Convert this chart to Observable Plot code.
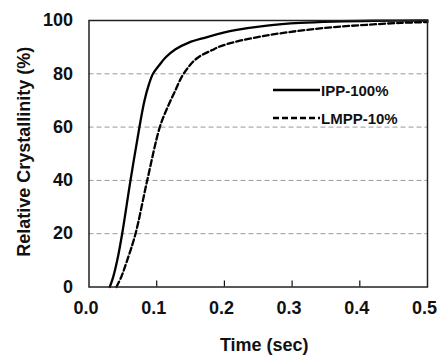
<!DOCTYPE html>
<html>
<head>
<meta charset="utf-8">
<script src="https://cdn.jsdelivr.net/npm/d3@7"></script>
<script src="https://cdn.jsdelivr.net/npm/@observablehq/plot@0.6"></script>
<style>
  body { margin: 0; background: #fff; }
  #wrap { position: relative; width: 438px; height: 356px; font-family: "Liberation Sans", Arial, sans-serif; }
  #legend { position: absolute; left: 0; top: 0; }
</style>
</head>
<body>
<div id="wrap"></div>
<script>
// Data
const ippTime = [0.0307, 0.036, 0.0417, 0.049, 0.0613, 0.0745, 0.082, 0.0885, 0.0945, 0.1031, 0.113, 0.1278, 0.1474, 0.172, 0.2016, 0.216, 0.263, 0.312, 0.361, 0.42, 0.5];
const ippValue = [0, 4, 10, 20, 40, 60, 70, 76, 80, 83, 86.1, 89.2, 91.7, 93.6, 95.6, 96.4, 98.1, 99.1, 99.6, 99.9, 100];
const lmppTime = [0.0406, 0.048, 0.0564, 0.0687, 0.086, 0.1046, 0.1153, 0.1265, 0.1387, 0.1548, 0.1672, 0.182, 0.1917, 0.216, 0.263, 0.312, 0.361, 0.411, 0.46, 0.5];
const lmppValue = [0, 4, 10, 20, 40, 60, 67, 73.2, 79.6, 84.8, 87.1, 88.9, 90.1, 92.0, 94.4, 96.2, 97.5, 98.4, 99.1, 99.4];
const seriesNames = ["IPP-100%", "LMPP-10%"];
const xTicks = [0, 0.1, 0.2, 0.3, 0.4, 0.5];
const yTicks = [0, 20, 40, 60, 80, 100];
const gridValues = [20, 40, 60, 80];
const xLabel = "Time (sec)";
const yLabel = "Relative Crystallinity (%)";

const ipp = ippTime.map((t, i) => ({t, v: ippValue[i]}));
const lmpp = lmppTime.map((t, i) => ({t, v: lmppValue[i]}));

const W = 438, H = 356;
const mL = 88.5, mR = 11, mT = 20, mB = 69.5;
const FONT = '"Liberation Sans", Arial, sans-serif';

const chart = Plot.plot({
  width: W,
  height: H,
  marginLeft: mL,
  marginRight: mR,
  marginTop: mT,
  marginBottom: mB,
  style: {fontFamily: FONT, fontSize: "18px", fontWeight: "bold", color: "#111", background: "#fff"},
  x: {domain: [0, 0.5]},
  y: {domain: [0, 100]},
  marks: [
    Plot.ruleY(gridValues, {stroke: "#9a9a9a", strokeWidth: 1, strokeDasharray: "5,3"}),
    Plot.axisX(xTicks.slice(1, -1), {tickSize: -6, text: null, label: null, stroke: "#111", strokeWidth: 1.2}),
    Plot.axisX(xTicks, {tickSize: 0, tickPadding: 14, dx: -3, tickFormat: d3.format(".1f"), label: null, fontWeight: "bold"}),
    Plot.axisY(yTicks, {tickSize: 0, tickPadding: 16, tickFormat: d3.format("d"), label: null, fontWeight: "bold"}),
    Plot.text([xLabel], {text: d => d, frameAnchor: "bottom", textAnchor: "middle", lineAnchor: "middle", dx: 6, dy: 58, fontSize: 18, fontWeight: "bold", fill: "#111"}),
    Plot.text([yLabel], {text: d => d, frameAnchor: "left", textAnchor: "middle", lineAnchor: "middle", dx: -65, dy: -2, rotate: -90, fontSize: 18, fontWeight: "bold", fill: "#111"}),
    Plot.line(ipp, {x: "t", y: "v", stroke: "#000", strokeWidth: 2.3, curve: "catmull-rom"}),
    Plot.line(lmpp, {x: "t", y: "v", stroke: "#000", strokeWidth: 2.3, strokeDasharray: "6,3", curve: "catmull-rom"}),
    Plot.frame({stroke: "#222", strokeWidth: 1.5})
  ]
});

const wrap = document.getElementById("wrap");
wrap.appendChild(chart);

// Legend overlay
const ns = "http://www.w3.org/2000/svg";
const leg = document.createElementNS(ns, "svg");
leg.setAttribute("id", "legend");
leg.setAttribute("width", W);
leg.setAttribute("height", H);
const legendRows = [{name: seriesNames[0], dash: null, y: 90}, {name: seriesNames[1], dash: "6,3", y: 118}];
for (const r of legendRows) {
  const ln = document.createElementNS(ns, "line");
  ln.setAttribute("x1", 273); ln.setAttribute("x2", 320);
  ln.setAttribute("y1", r.y); ln.setAttribute("y2", r.y);
  ln.setAttribute("stroke", "#000"); ln.setAttribute("stroke-width", 2.3);
  if (r.dash) ln.setAttribute("stroke-dasharray", r.dash);
  leg.appendChild(ln);
  const tx = document.createElementNS(ns, "text");
  tx.setAttribute("x", 321); tx.setAttribute("y", r.y + 5.5);
  tx.setAttribute("font-family", FONT);
  tx.setAttribute("font-size", "15px");
  tx.setAttribute("font-weight", "bold");
  tx.setAttribute("fill", "#111");
  tx.textContent = r.name;
  leg.appendChild(tx);
}
wrap.appendChild(leg);
</script>
</body>
</html>
